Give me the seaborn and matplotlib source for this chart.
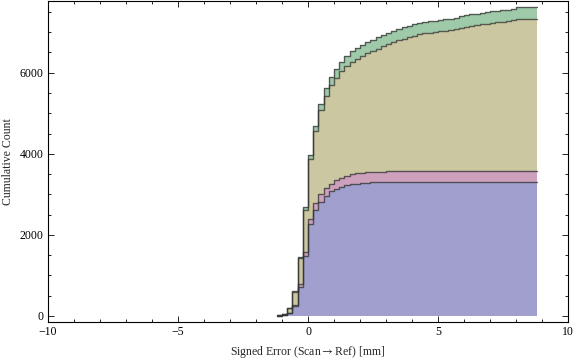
import numpy as np
import pandas as pd
import matplotlib
matplotlib.use("Agg")
import matplotlib.pyplot as plt
from matplotlib.ticker import MultipleLocator
import seaborn as sns

# Bins: 0.2 mm wide, from -1.2 to 8.8
bin_start, bin_stop, bin_width = -1.2, 8.8, 0.2
bin_lefts = np.round(np.arange(bin_start, bin_stop - 1e-9, bin_width), 1)

series_names = ["Green", "Olive", "Pink", "Blue"]  # top -> bottom in the stack
series_colors = ["#9ECAAA", "#CBC7A0", "#CDA0BC", "#A09FCD"]

# Cumulative counts of each series' own layer, read at each bin
blue_cum = [5, 25, 65, 247, 716, 1481, 2272, 2617, 2823, 2963,
            3070, 3136, 3193, 3226, 3251, 3267, 3280, 3287, 3292, 3300,
            3300, 3300, 3300, 3300, 3300, 3300, 3300, 3300, 3300, 3300,
            3300, 3300, 3300, 3300, 3300, 3300, 3300, 3300, 3300, 3300,
            3300, 3300, 3300, 3300, 3300, 3300, 3300, 3300, 3300, 3300]
pink_cum = [1, 3, 5, 18, 74, 91, 118, 160, 180, 182,
            189, 206, 206, 222, 240, 250, 255, 257, 257, 257,
            257, 264, 264, 264, 264, 264, 264, 264, 264, 264,
            264, 264, 264, 264, 264, 264, 264, 264, 264, 264,
            264, 264, 264, 264, 264, 264, 264, 264, 264, 264]
olive_cum = [6, 12, 120, 335, 630, 1045, 1478, 1791, 2072, 2270,
             2431, 2526, 2650, 2708, 2773, 2828, 2888, 2942, 2993, 3040,
             3105, 3138, 3195, 3236, 3276, 3317, 3349, 3382, 3407, 3425,
             3439, 3455, 3474, 3487, 3514, 3543, 3568, 3593, 3612, 3630,
             3647, 3664, 3681, 3696, 3706, 3726, 3769, 3769, 3769, 3769]
green_cum = [1, 2, 5, 15, 45, 66, 91, 107, 151, 198,
             200, 215, 215, 247, 262, 265, 268, 271, 273, 275,
             276, 277, 278, 278, 279, 279, 280, 280, 280, 281,
             281, 281, 282, 282, 282, 283, 283, 283, 284, 284,
             284, 284, 285, 285, 285, 285, 288, 288, 288, 288]

cum_by_series = {"Green": green_cum, "Olive": olive_cum,
                 "Pink": pink_cum, "Blue": blue_cum}

# Per-bin counts (weights) for each series
rows = []
for name in series_names:
    counts = np.diff(np.concatenate([[0], cum_by_series[name]]))
    for left, c in zip(bin_lefts, counts):
        rows.append({"x": float(left) + bin_width / 2, "w": float(c), "series": name})
df = pd.DataFrame(rows)

sns.set_style("ticks")
plt.rcParams["font.family"] = ["Liberation Serif", "DejaVu Serif"]
plt.rcParams["mathtext.fontset"] = "stix"
plt.rcParams["axes.unicode_minus"] = True

fig = plt.figure(figsize=(5.76, 3.62), dpi=100)
ax = fig.add_axes([48 / 576, 1 - 322 / 362, 520 / 576, 321 / 362])

palette = dict(zip(series_names, series_colors))
common = dict(data=df, x="x", weights="w", hue="series", hue_order=series_names,
              binwidth=bin_width, binrange=(bin_start, bin_stop),
              cumulative=True, multiple="stack", element="step",
              legend=False, ax=ax)
sns.histplot(fill=True, palette=palette, alpha=1, linewidth=0, **common)
sns.histplot(fill=False, palette={n: "#333333" for n in series_names},
             alpha=0.75, linewidth=1.0, **common)

ax.set_xlim(-10, 10)
ax.set_ylim(-150, 7770)
ax.xaxis.set_major_locator(MultipleLocator(5))
ax.xaxis.set_minor_locator(MultipleLocator(1))
ax.yaxis.set_major_locator(MultipleLocator(2000))
ax.yaxis.set_minor_locator(MultipleLocator(500))

for s in ax.spines.values():
    s.set_visible(True)
    s.set_color("black")
    s.set_linewidth(0.8)

ax.tick_params(which="both", direction="in", top=True, right=True,
               colors="black", labelsize=8.5, width=0.6)
ax.tick_params(which="major", length=4, pad=3)
ax.tick_params(which="minor", length=2)

ax.set_xlabel("Signed Error (Scan$\\rightarrow$Ref) [mm]", fontsize=8.5, labelpad=4)
ax.set_ylabel("Cumulative Count", fontsize=8.5, labelpad=4)
ax.grid(False)

fig.savefig("out.png", dpi=100)
